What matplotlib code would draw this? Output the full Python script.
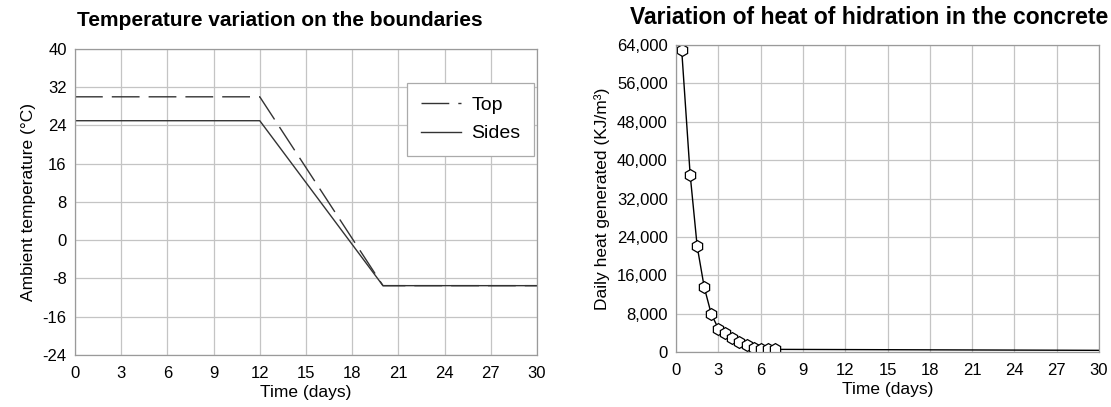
import numpy as np
import matplotlib
matplotlib.use('Agg')
import matplotlib.pyplot as plt
from matplotlib.ticker import FuncFormatter

plt.rcParams['font.family'] = ['Liberation Sans', 'DejaVu Sans']
plt.rcParams['axes.unicode_minus'] = False

# boundary temperatures (deg C)
days_temp = [0, 12, 20, 30]
temp_top = [30, 30, -9.5, -9.5]
temp_sides = [25, 25, -9.5, -9.5]

# daily heat of hydration (KJ/m3)
days_heat = [0.4, 1, 1.5, 2, 2.5, 3, 3.5, 4, 4.5, 5, 5.5, 6, 6.5, 7, 30]
heat = [63000, 37000, 22000, 13500, 7900, 4900, 4000, 3000, 2000, 1400,
        900, 700, 600, 550, 350]
n_marked = 14

GRID = '#c4c4c4'
SPINE = '#9a9a9a'
TICK_FS = 12
LABEL_FS = 12.5

fig = plt.figure(figsize=(11.11, 4.07), dpi=100)
ax1 = fig.add_axes([0.0675, 0.1278, 0.4158, 0.7518])
ax2 = fig.add_axes([0.6085, 0.1351, 0.3807, 0.7543])

def style(ax):
    ax.grid(True, color=GRID, linewidth=0.9)
    ax.set_axisbelow(True)
    for s in ax.spines.values():
        s.set_color(SPINE)
        s.set_linewidth(0.9)
    ax.tick_params(length=0, labelsize=TICK_FS, pad=6)
    ax.tick_params(axis='x', pad=8)

# left panel
ax1.plot(days_temp, temp_top, color='#333333', linewidth=1.0,
         dashes=(20, 6.5), label='Top')
ax1.plot(days_temp, temp_sides, color='#333333', linewidth=1.0, label='Sides')
ax1.set_xlim(0, 30)
ax1.set_ylim(-24, 40)
ax1.set_xticks(np.arange(0, 31, 3))
ax1.set_yticks(np.arange(-24, 41, 8))
style(ax1)
ax1.set_xlabel('Time (days)', fontsize=LABEL_FS, labelpad=3)
ax1.set_ylabel('Ambient temperature (°C)', fontsize=LABEL_FS, labelpad=5)
leg = ax1.legend(loc='upper right', bbox_to_anchor=(0.9935, 0.889),
                 borderaxespad=0, fontsize=14, fancybox=False, framealpha=1,
                 edgecolor='#aaaaaa', handlelength=2.1, borderpad=0.7,
                 labelspacing=0.55, handletextpad=0.5)
leg.get_frame().set_linewidth(0.9)

# right panel
ax2.plot(days_heat, heat, color='black', linewidth=1.0, marker='h',
         markersize=8.5, markerfacecolor='white', markeredgecolor='black',
         markeredgewidth=0.9, markevery=list(range(n_marked)))
ax2.set_xlim(0, 30)
ax2.set_ylim(0, 64000)
ax2.set_xticks(np.arange(0, 31, 3))
ax2.set_yticks(np.arange(0, 64001, 8000))
ax2.yaxis.set_major_formatter(FuncFormatter(lambda v, p: f'{int(v):,}'))
style(ax2)
ax2.set_xlabel('Time (days)', fontsize=LABEL_FS, labelpad=3)
ax2.set_ylabel('Daily heat generated (KJ/m³)', fontsize=LABEL_FS, labelpad=5)

fig.text(280 / 1111, 0.95, 'Temperature variation on the boundaries',
         ha='center', va='center', fontsize=15, fontweight='bold')
fig.text(869 / 1111, 0.957, 'Variation of heat of hidration in the concrete',
         ha='center', va='center', fontsize=16.5, fontweight='bold')

fig.savefig('out.png', dpi=100, facecolor='white')
